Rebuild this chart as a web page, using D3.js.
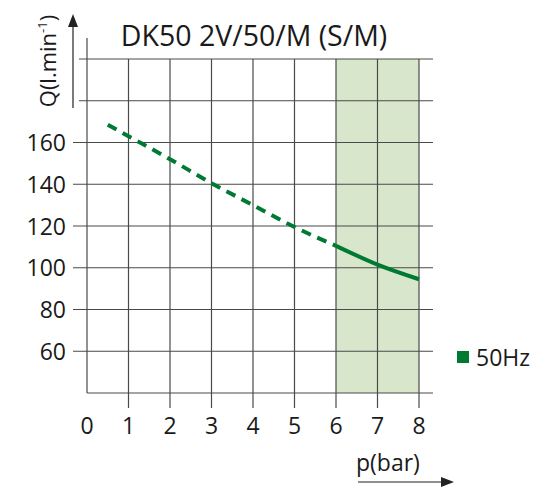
<!DOCTYPE html>
<html>
<head>
<meta charset="utf-8">
<script src="https://cdn.jsdelivr.net/npm/d3@7"></script>
<style>
  body { margin: 0; background: #fff; }
  text { font-family: "Open Sans", "Noto Sans", sans-serif; fill: #1a1a1a; }
</style>
</head>
<body>
<div id="app"></div>
<script>
// Data
const pressure = [0.5, 1, 2, 3, 4, 5, 6, 7, 8];
const flow50Hz = [168.5, 163, 152, 140.5, 130, 119.5, 110.5, 101.5, 94.5];
const dashedUntil = 6;          // curve is dashed below 6 bar
const shadedRange = [6, 8];     // green band
const xTicks = [0, 1, 2, 3, 4, 5, 6, 7, 8];
const yTicks = [60, 80, 100, 120, 140, 160];
const yGrid = [60, 80, 100, 120, 140, 160, 180, 200];

const width = 550, height = 500;
const svg = d3.select("#app").append("svg")
  .attr("width", width)
  .attr("height", height);

const x = d3.scaleLinear().domain([0, 8]).range([87, 419]);
const y = d3.scaleLinear().domain([40, 200]).range([393, 59]);
const green = "#007a33";

// shaded band
svg.append("rect")
  .attr("x", x(shadedRange[0]))
  .attr("y", y(200))
  .attr("width", x(shadedRange[1]) - x(shadedRange[0]))
  .attr("height", y(40) - y(200))
  .attr("fill", "#d8e7cb");

// horizontal grid
svg.append("g").selectAll("line")
  .data(yGrid)
  .join("line")
  .attr("x1", d => yTicks.includes(d) ? 73 : 79)
  .attr("x2", 433)
  .attr("y1", d => y(d))
  .attr("y2", d => y(d))
  .attr("stroke", "#4a4a4a")
  .attr("stroke-width", 1.2);

// vertical grid (with ticks below the axis)
svg.append("g").selectAll("line")
  .data(xTicks.slice(1))
  .join("line")
  .attr("x1", d => x(d))
  .attr("x2", d => x(d))
  .attr("y1", y(200))
  .attr("y2", 408)
  .attr("stroke", "#4a4a4a")
  .attr("stroke-width", 1.2);

// axes
svg.append("line")
  .attr("x1", x(0)).attr("x2", x(0))
  .attr("y1", 38).attr("y2", y(40))
  .attr("stroke", "#4a4a4a").attr("stroke-width", 1.2);
svg.append("line")
  .attr("x1", x(0)).attr("x2", 433)
  .attr("y1", y(40)).attr("y2", y(40))
  .attr("stroke", "#4a4a4a").attr("stroke-width", 1.2);

// tick labels
svg.append("g").selectAll("text")
  .data(yTicks)
  .join("text")
  .attr("x", 66)
  .attr("y", d => y(d) + 8.5)
  .attr("text-anchor", "end")
  .attr("font-size", 23)
  .text(d => d);

svg.append("g").selectAll("text")
  .data(xTicks)
  .join("text")
  .attr("x", d => x(d))
  .attr("y", 434)
  .attr("text-anchor", "middle")
  .attr("font-size", 23)
  .text(d => d);

// curve
const line = d3.line()
  .x(d => x(d[0]))
  .y(d => y(d[1]))
  .curve(d3.curveMonotoneX);
const pts = pressure.map((p, i) => [p, flow50Hz[i]]);

svg.append("path")
  .datum(pts.filter(d => d[0] <= dashedUntil))
  .attr("d", line)
  .attr("fill", "none")
  .attr("stroke", green)
  .attr("stroke-width", 4)
  .attr("stroke-dasharray", "10,7");

svg.append("path")
  .datum(pts.filter(d => d[0] >= dashedUntil))
  .attr("d", line)
  .attr("fill", "none")
  .attr("stroke", green)
  .attr("stroke-width", 4);

// title
svg.append("text")
  .attr("x", 254)
  .attr("y", 46)
  .attr("text-anchor", "middle")
  .attr("font-size", 28.5)
  .text("DK50 2V/50/M (S/M)");

// y label + arrow
const yl = svg.append("text")
  .attr("transform", "translate(56,61) rotate(-90)")
  .attr("text-anchor", "middle")
  .attr("font-size", 22);
yl.append("tspan").text("Q(l.min");
yl.append("tspan").attr("font-size", 13).attr("dy", -9).text("-1");
yl.append("tspan").attr("dy", 9).text(")");

svg.append("line")
  .attr("x1", 73).attr("x2", 73)
  .attr("y1", 108).attr("y2", 24)
  .attr("stroke", "#222").attr("stroke-width", 1.2);
svg.append("path")
  .attr("d", "M73,14 L68,27 L78,27 Z")
  .attr("fill", "#222");

// x label + arrow
svg.append("text")
  .attr("x", 356)
  .attr("y", 471)
  .attr("font-size", 23)
  .text("p(bar)");
svg.append("line")
  .attr("x1", 358).attr("x2", 442)
  .attr("y1", 482).attr("y2", 482)
  .attr("stroke", "#222").attr("stroke-width", 1.2);
svg.append("path")
  .attr("d", "M454,482 L441,477 L441,487 Z")
  .attr("fill", "#222");

// legend
svg.append("rect")
  .attr("x", 457).attr("y", 351)
  .attr("width", 12).attr("height", 12)
  .attr("fill", green);
svg.append("text")
  .attr("x", 476)
  .attr("y", 366)
  .attr("font-size", 23)
  .text("50Hz");
</script>
</body>
</html>
